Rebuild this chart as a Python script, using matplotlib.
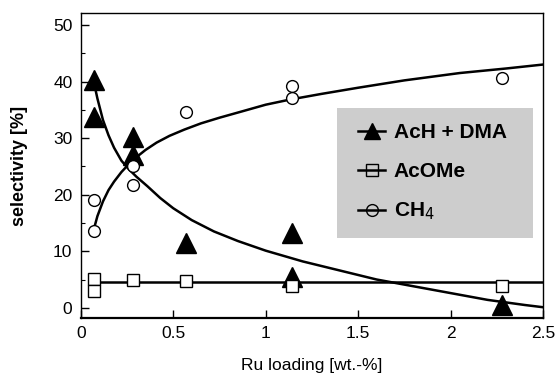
import matplotlib
matplotlib.use("Agg")
import matplotlib.pyplot as plt
from matplotlib.patches import Rectangle
from matplotlib.ticker import MultipleLocator

plt.rcParams["font.family"] = ["Liberation Sans", "DejaVu Sans"]

# measured points
ru_ach = [0.07, 0.07, 0.28, 0.28, 0.57, 1.14, 1.14, 2.28]
sel_ach = [40.3, 33.7, 30.2, 27.0, 11.4, 13.2, 5.5, 0.5]

ru_acome = [0.07, 0.07, 0.28, 0.57, 1.14, 2.28]
sel_acome = [5.1, 3.0, 4.9, 4.8, 3.8, 3.8]

ru_ch4 = [0.07, 0.07, 0.28, 0.28, 0.57, 1.14, 1.14, 2.28]
sel_ch4 = [19.1, 13.6, 25.0, 21.7, 34.6, 39.2, 37.1, 40.6]

# fitted curves
fit_ach_x = [0.07, 0.09, 0.12, 0.15, 0.18, 0.22, 0.26, 0.3, 0.36, 0.43, 0.5,
             0.6, 0.72, 0.85, 1.0, 1.2, 1.4, 1.6, 1.8, 2.0, 2.2, 2.4, 2.5]
fit_ach_y = [40.0, 37.0, 33.2, 30.5, 28.3, 26.0, 24.5, 23.2, 21.5, 19.4, 17.6,
             15.5, 13.5, 11.8, 10.1, 8.2, 6.6, 5.0, 3.8, 2.6, 1.4, 0.5, 0.1]

fit_ch4_x = [0.07, 0.09, 0.12, 0.15, 0.18, 0.22, 0.26, 0.3, 0.35, 0.41, 0.48,
             0.56, 0.65, 0.75, 0.87, 1.0, 1.13, 1.3, 1.5, 1.75, 2.05, 2.3, 2.5]
fit_ch4_y = [13.8, 16.2, 18.8, 20.8, 22.3, 24.0, 25.4, 26.6, 27.9, 29.2, 30.4,
             31.5, 32.6, 33.6, 34.7, 35.9, 36.8, 37.8, 38.9, 40.2, 41.5, 42.3, 43.0]

fit_acome_x = [0.05, 2.5]
fit_acome_y = [4.6, 4.6]

labels = ["AcH + DMA", "AcOMe", "CH$_4$"]

fig = plt.figure(figsize=(5.57, 3.73), dpi=100)
ax = fig.add_axes([0.145, 0.1475, 0.83, 0.8175])

ax.plot(fit_ach_x, fit_ach_y, color="black", lw=1.8)
ax.plot(fit_ch4_x, fit_ch4_y, color="black", lw=1.8)
ax.plot(fit_acome_x, fit_acome_y, color="black", lw=1.8)

ax.plot(ru_ach, sel_ach, ls="none", marker="^", ms=14, color="black")
ax.plot(ru_acome, sel_acome, ls="none", marker="s", ms=8.5, mfc="white",
        mec="black", mew=1.0)
ax.plot(ru_ch4, sel_ch4, ls="none", marker="o", ms=8.5, mfc="white",
        mec="black", mew=1.0)

ax.set_xlim(0, 2.5)
ax.set_ylim(-1.8, 52.1)
ax.set_xticks([0, 0.5, 1, 1.5, 2, 2.5])
ax.set_xticklabels(["0", "0.5", "1", "1.5", "2", "2.5"])
ax.set_yticks([0, 10, 20, 30, 40, 50])
ax.yaxis.set_minor_locator(MultipleLocator(5))
ax.tick_params(which="major", direction="in", length=6, width=1.0,
               labelsize=12.5, pad=6)
ax.tick_params(which="minor", direction="in", length=3, width=0.8)
for s in ax.spines.values():
    s.set_linewidth(1.0)
ax.spines["bottom"].set_linewidth(1.6)

ax.set_xlabel("Ru loading [wt.-%]", fontsize=12.5)
ax.xaxis.set_label_coords(0.5, -0.13)
ax.set_ylabel("selectivity [%]", fontsize=13, fontweight="bold")
ax.yaxis.set_label_coords(-0.115, 0.5)

# stippled grey legend box
ax.add_patch(Rectangle((0.554, 0.262), 0.424, 0.427, transform=ax.transAxes,
                       facecolor="#cdcdcd", edgecolor="none", zorder=3))
h1, = ax.plot([], [], color="black", lw=1.8, marker="^", ms=12)
h2, = ax.plot([], [], color="black", lw=1.8, marker="s", ms=8.5,
              mfc="none", mew=1.0)
h3, = ax.plot([], [], color="black", lw=1.8, marker="o", ms=8.5,
              mfc="none", mew=1.0)
leg = ax.legend([h1, h2, h3], labels, loc="upper left",
                bbox_to_anchor=(0.56, 0.70), frameon=False,
                prop={"size": 15, "weight": "bold"}, handlelength=1.3,
                handletextpad=0.4, labelspacing=0.95)
leg.set_zorder(4)

fig.savefig("out.png", dpi=100)
